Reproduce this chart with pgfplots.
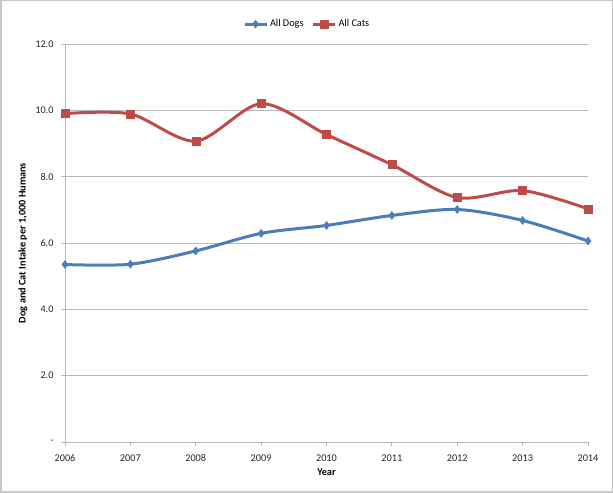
\documentclass[border=0pt]{standalone}
\usepackage{pgfplots}
\pgfplotsset{compat=1.18}
\usepackage{fontspec}
\setmainfont{Carlito}
\definecolor{dogblue}{RGB}{74,126,187}
\definecolor{catred}{RGB}{190,75,72}
\definecolor{gridgray}{RGB}{185,185,185}
\definecolor{framegray}{RGB}{200,200,200}
\begin{document}
\begin{tikzpicture}[x=1bp,y=1bp]
\draw[framegray, line width=1.5bp] (0.75,0.75) rectangle (612.25,492.25);
\begin{axis}[
  at={(65bp,51bp)}, anchor=south west,
  scale only axis, width=523bp, height=398bp,
  xmin=2006, xmax=2014, ymin=0, ymax=12,
  axis x line=bottom, axis y line=left,
  axis line style={gridgray, line width=0.8bp, -},
  xtick={2006,...,2014},
  xticklabels={2006,2007,2008,2009,2010,2011,2012,2013,2014},
  ytick={0,2,4,6,8,10,12},
  yticklabels={-,2.0,4.0,6.0,8.0,10.0,12.0},
  tick align=outside, major tick length=4bp,
  tick style={gridgray, line width=0.8bp},
  ymajorgrids, major grid style={gridgray, line width=0.8bp},
  tick label style={font=\fontsize{10.3}{12}\selectfont, text=black!85},
  xticklabel style={yshift=-5bp},
  yticklabel style={xshift=-4bp},
  xlabel={Year}, ylabel={Dog and Cat Intake per 1,000 Humans},
  every axis x label/.style={at={(axis description cs:0.5,-0.0754)}, anchor=center, font=\fontsize{10.3}{12}\selectfont\bfseries},
  every axis y label/.style={at={(axis description cs:-0.0803,0.5)}, rotate=90, anchor=center, font=\fontsize{10.3}{12}\selectfont\bfseries},
  legend columns=2,
  legend style={at={(axis description cs:0.463,1.05)}, anchor=center, draw=none, fill=none,
    font=\fontsize{10.3}{12}\selectfont, /tikz/every even column/.append style={column sep=6bp}},
  legend image code/.code={\draw[#1, mark repeat=2, mark phase=2] plot coordinates {(0bp,0bp) (11bp,0bp) (22bp,0bp)};},
]
\addplot[dogblue, line width=3bp, smooth, tension=0.5, mark=diamond*, mark size=4bp, mark options={fill=dogblue, draw=dogblue, line width=0.5bp}]
  coordinates {(2006,5.35) (2007,5.36) (2008,5.76) (2009,6.29) (2010,6.53) (2011,6.83) (2012,7.01) (2013,6.68) (2014,6.06)};
\addlegendentry{All Dogs}
\addplot[catred, line width=3bp, smooth, tension=0.5, mark=square*, mark size=4bp, mark options={fill=catred, draw=catred, line width=0.5bp}]
  coordinates {(2006,9.90) (2007,9.89) (2008,9.07) (2009,10.20) (2010,9.27) (2011,8.36) (2012,7.37) (2013,7.58) (2014,7.03)};
\addlegendentry{All Cats}
\end{axis}
\end{tikzpicture}
\end{document}
